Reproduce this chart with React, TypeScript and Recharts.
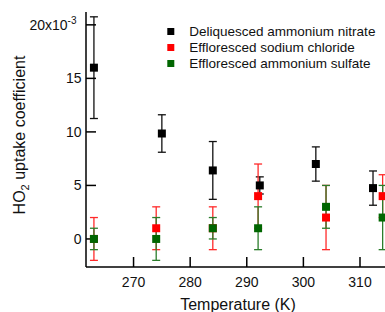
import React from 'react';
import { ScatterChart, Scatter, XAxis, YAxis, ZAxis, ErrorBar, Legend } from 'recharts';

const seriesNames = ['Deliquesced ammonium nitrate', 'Effloresced sodium chloride', 'Effloresced ammonium sulfate'];
const seriesColors = ['#000000', '#ff0000', '#006600'];
const errorColors = ['#111111', '#ff2a2a', '#2b7d2b'];

const nitrateT = [263, 275, 284, 292.3, 302.2, 312.3];
const nitrateVal = [16.0, 9.85, 6.4, 5.0, 7.0, 4.75];
const nitrateErr = [4.75, 1.75, 2.7, 0.8, 1.6, 1.6];

const chlorideT = [263, 274, 284, 292, 304, 314];
const chlorideVal = [0, 1, 1, 4, 2, 4];
const chlorideErr = [2, 2, 2, 3, 3, 2];

const sulfateT = [263, 274, 284, 292, 304, 314];
const sulfateVal = [0, 0, 1, 1, 3, 2];
const sulfateErr = [1, 2, 1, 2, 2, 3];

const xTicks = [270, 280, 290, 300, 310];
const yTicks = [0, 5, 10, 15, 20];
const xDomain: [number, number] = [261.6, 315.3];
const yDomain: [number, number] = [-2.62, 21.2];

const FONT = '"Liberation Sans", Arial, Helvetica, sans-serif';

const zip = (t: number[], v: number[], e: number[]) => t.map((x, i) => ({ t: x, v: v[i], err: e[i] }));
const seriesData = [
  zip(nitrateT, nitrateVal, nitrateErr),
  zip(chlorideT, chlorideVal, chlorideErr),
  zip(sulfateT, sulfateVal, sulfateErr),
];

const YTick = (props: any) => {
  const { x, y, payload } = props;
  const val = payload.value;
  if (val === 20) {
    return (
      <text x={x - 5} y={y} dy="0.355em" textAnchor="end" fontSize={14} fontFamily={FONT} fill="#111">
        20x10<tspan dy={-6} fontSize={10}>-3</tspan>
      </text>
    );
  }
  return (
    <text x={x} y={y} dy="0.355em" textAnchor="end" fontSize={14} fontFamily={FONT} fill="#111">
      {val}
    </text>
  );
};

const XLabel = (props: any) => {
  const vb = props.viewBox || { x: 86, y: 267, width: 304, height: 45 };
  return (
    <text x={vb.x + vb.width / 2} y={vb.y + 42.5} textAnchor="middle" fontSize={16} fontFamily={FONT} fill="#111">
      Temperature (K)
    </text>
  );
};

const YLabel = () => (
  <text transform="translate(24.5, 135) rotate(-90)" textAnchor="middle" fontSize={16} fontFamily={FONT} fill="#111">
    HO<tspan dy={4} fontSize={11}>2</tspan>
    <tspan dy={-4}> uptake coefficient</tspan>
  </text>
);

const LegendContent = () => (
  <svg width={385} height={80} style={{ display: 'block' }}>
    {seriesNames.map((name, i) => (
      <g key={name}>
        <rect x={167.3} y={28.2 + i * 16 - 0.2} width={7} height={7} fill={seriesColors[i]} />
        <text x={189.3} y={36 + i * 16} fontSize={13.5} fontFamily={FONT} fill="#111">
          {name}
        </text>
      </g>
    ))}
  </svg>
);

export default function App() {
  return (
    <div style={{ position: 'absolute', left: 0, top: 0, width: 385, height: 312, overflow: 'hidden', background: '#fff' }}>
      <ScatterChart width={400} height={312} margin={{ top: 12, right: 0, bottom: 0, left: 0 }}>
        <XAxis
          type="number"
          dataKey="t"
          domain={xDomain}
          ticks={xTicks}
          allowDataOverflow
          height={45}
          tickSize={-10}
          tickMargin={20}
          axisLine={{ stroke: '#000', strokeWidth: 1.5 }}
          tickLine={{ stroke: '#000', strokeWidth: 1.5 }}
          tick={{ fontSize: 14, fontFamily: FONT, fill: '#111' }}
          label={<XLabel />}
        />
        <XAxis
          xAxisId="top"
          orientation="top"
          type="number"
          domain={xDomain}
          ticks={xTicks}
          allowDataOverflow
          height={0}
          tickSize={-10}
          tick={false}
          axisLine={{ stroke: '#000', strokeWidth: 1.5 }}
          tickLine={{ stroke: '#000', strokeWidth: 1.5 }}
        />
        <YAxis
          type="number"
          dataKey="v"
          domain={yDomain}
          ticks={yTicks}
          allowDataOverflow
          width={86}
          tickSize={-10}
          tickMargin={14.5}
          axisLine={{ stroke: '#000', strokeWidth: 1.5 }}
          tickLine={{ stroke: '#000', strokeWidth: 1.5 }}
          tick={<YTick />}
          label={<YLabel />}
        />
        <YAxis
          yAxisId="right"
          orientation="right"
          type="number"
          domain={yDomain}
          ticks={yTicks}
          allowDataOverflow
          width={10}
          tickSize={-10}
          tick={false}
          axisLine={{ stroke: '#000', strokeWidth: 1.5 }}
          tickLine={{ stroke: '#000', strokeWidth: 1.5 }}
        />
        <ZAxis range={[56, 56]} />
        <Legend
          layout="horizontal"
          verticalAlign="middle"
          align="center"
          wrapperStyle={{ position: 'absolute', left: 0, top: 0, width: 385, height: 80 }}
          content={<LegendContent />}
        />
        {seriesData.map((data, i) => (
          <Scatter
            key={seriesNames[i]}
            name={seriesNames[i]}
            data={data}
            fill={seriesColors[i]}
            shape="square"
            isAnimationActive={false}
          >
            <ErrorBar dataKey="err" direction="y" width={4} stroke={errorColors[i]} strokeWidth={1.3} isAnimationActive={false} />
          </Scatter>
        ))}
      </ScatterChart>
    </div>
  );
}
